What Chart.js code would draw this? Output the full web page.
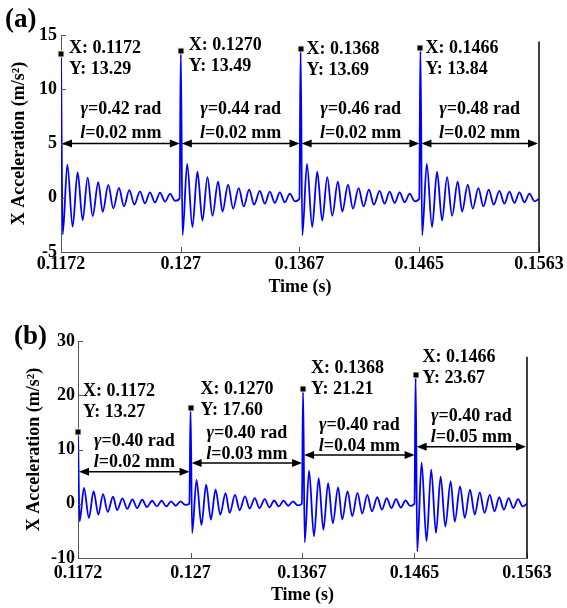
<!DOCTYPE html>
<html><head><meta charset="utf-8">
<script src="https://cdn.jsdelivr.net/npm/chart.js@4.4.1/dist/chart.umd.min.js"></script>
<style>
html,body{margin:0;padding:0;background:#fff;}
#wrap{position:relative;width:567px;height:608px;overflow:hidden;}
canvas{position:absolute;left:0;}
</style></head><body>
<div id="wrap">
<canvas id="ca" width="567" height="300" style="top:0"></canvas>
<canvas id="cb" width="567" height="308" style="top:300px"></canvas>
</div>
<script>
// ---------------- data ----------------
const xTickValues = [0.1172, 0.1270, 0.1367, 0.1465, 0.1563];
const xTickLabels = ['0.1172', '0.127', '0.1367', '0.1465', '0.1563'];

// times (ms after each impact) of the successive troughs/peaks of the ringing, last = end of segment
const ringOffsetsMs = [0.14, 0.52, 0.95, 1.36, 1.77, 2.18, 2.59, 3.05, 3.41, 3.87, 4.28, 4.74,
                       5.15, 5.59, 6.00, 6.46, 6.87, 7.28, 7.69, 8.10, 8.51, 8.92, 9.33, 9.70];

// panel (a)
const impactTimesA = [0.1172, 0.1270, 0.1368, 0.1466];
const impactPeaksA = [13.29, 13.49, 13.69, 13.84];
const ringA1 = [-3.38, 3.05, -2.66, 2.36, -2.06, 1.86, -1.68, 1.44, -1.30, 1.18, -0.98, 0.90, -0.79, 0.70, -0.63, 0.58, -0.52, 0.50, -0.44, 0.48, -0.36, 0.36, -0.28, -0.08];
const ringA2 = [-3.45, 3.12, -2.70, 2.40, -2.10, 1.90, -1.66, 1.48, -1.28, 1.20, -1.00, 0.89, -0.80, 0.74, -0.64, 0.63, -0.55, 0.56, -0.48, 0.49, -0.42, 0.38, -0.33, -0.10];
const ringA3 = [-3.45, 3.12, -2.70, 2.40, -2.10, 1.90, -1.66, 1.48, -1.28, 1.20, -1.00, 0.89, -0.80, 0.74, -0.64, 0.63, -0.55, 0.56, -0.48, 0.49, -0.42, 0.38, -0.33, -0.10];
const ringA4 = [-3.45, 3.12, -2.70, 2.40, -2.10, 1.90, -1.66, 1.48, -1.28, 1.20, -1.00, 0.89, -0.80, 0.74, -0.64, 0.63, -0.55, 0.56, -0.48, 0.49, -0.42, 0.38, -0.33, -0.10];
const gammaA = [0.42, 0.44, 0.46, 0.48];
const lengthA = [0.02, 0.02, 0.02, 0.02];
const arrowLevelA = [5, 5, 5, 5];
const endMarkTopA = 14.4;

// panel (b)
const impactTimesB = [0.1172, 0.1270, 0.1368, 0.1466];
const impactPeaksB = [13.27, 17.60, 21.21, 23.67];
const ringB1 = [-3.25, 2.90, -2.60, 2.30, -2.00, 1.75, -1.50, 1.30, -1.15, 1.00, -0.95, 0.82, -0.80, 0.74, -0.60, 0.55, -0.50, 0.55, -0.50, 0.43, -0.37, 0.43, -0.20, 0.00];
const ringB2 = [-5.40, 4.40, -3.90, 3.50, -2.90, 2.60, -2.00, 1.96, -1.70, 1.65, -1.20, 1.35, -0.90, 1.05, -0.80, 0.86, -0.67, 0.60, -0.50, 0.55, -0.37, 0.43, -0.30, 0.00];
const ringB3 = [-7.10, 6.10, -6.00, 4.70, -4.80, 3.80, -3.60, 3.00, -2.90, 2.30, -2.30, 2.00, -1.80, 1.65, -1.40, 1.20, -1.10, 1.05, -0.80, 0.86, -0.70, 0.60, -0.40, 0.00];
const ringB4 = [-8.80, 7.60, -6.90, 6.30, -5.40, 5.00, -4.20, 4.10, -3.30, 3.20, -2.60, 2.60, -2.00, 2.10, -1.70, 1.65, -1.40, 1.20, -1.10, 1.05, -0.80, 0.86, -0.50, 0.00];
const gammaB = [0.40, 0.40, 0.40, 0.40];
const lengthB = [0.02, 0.03, 0.04, 0.05];
const arrowLevelB = [5.9, 7.5, 9.0, 10.5];
const endMarkTopB = 27.1;

// ---------------- build ----------------
const FONT = "'Liberation Serif','Times New Roman',Times,serif";

function buildSeries(times, peaks, rings) {
  const pts = [];
  times.forEach((t0, k) => {
    pts.push({x: t0, y: peaks[k]});
    rings[k].forEach((v, j) => pts.push({x: t0 + ringOffsetsMs[j] / 1000, y: v}));
  });
  return pts;
}

function makePanel(id, P) {
  const series = buildSeries(P.times, P.peaks, P.rings);
  const annot = {
    id: 'annot_' + id,
    afterDraw(chart) {
      const ctx = chart.ctx, xs = chart.scales.x, ys = chart.scales.y;
      const ca = chart.chartArea;
      ctx.save();
      // inward tick marks
      ctx.strokeStyle = '#555'; ctx.lineWidth = 1;
      xTickValues.forEach(v => {
        const x = Math.round(xs.getPixelForValue(v)) + 0.5;
        ctx.beginPath(); ctx.moveTo(x, ca.bottom); ctx.lineTo(x, ca.bottom - 5); ctx.stroke();
      });
      ys.ticks.forEach(t => {
        const y = Math.round(ys.getPixelForValue(t.value)) + 0.5;
        ctx.beginPath(); ctx.moveTo(ca.left, y); ctx.lineTo(ca.left + 5, y); ctx.stroke();
      });
      // end marker line
      const xe = xs.getPixelForValue(xTickValues[4]);
      ctx.strokeStyle = '#000'; ctx.lineWidth = 1.5;
      ctx.beginPath(); ctx.moveTo(xe, ys.getPixelForValue(P.endTop)); ctx.lineTo(xe, ca.bottom); ctx.stroke();
      // arrows + texts
      ctx.fillStyle = '#000';
      P.times.forEach((t0, k) => {
        const x1 = xs.getPixelForValue(t0);
        const x2 = k < P.times.length - 1 ? xs.getPixelForValue(P.times[k + 1]) : xe;
        const y = ys.getPixelForValue(P.arrow[k]);
        ctx.lineWidth = 1.5;
        ctx.beginPath(); ctx.moveTo(x1 + 4, y); ctx.lineTo(x2 - 4, y); ctx.stroke();
        const L = 10, H = 4;
        ctx.beginPath(); ctx.moveTo(x1 + 1, y); ctx.lineTo(x1 + 1 + L, y - H); ctx.lineTo(x1 + 1 + L, y + H); ctx.closePath(); ctx.fill();
        ctx.beginPath(); ctx.moveTo(x2 - 1, y); ctx.lineTo(x2 - 1 - L, y - H); ctx.lineTo(x2 - 1 - L, y + H); ctx.closePath(); ctx.fill();
        const cx = (x1 + x2) / 2;
        drawMixed(ctx, [{t: '\u03B3', it: true}, {t: '=' + P.gamma[k].toFixed(2) + ' rad'}], cx, y - P.gOff);
        drawMixed(ctx, [{t: 'l', it: true}, {t: '=' + P.len[k].toFixed(2) + ' mm'}], cx, y - P.lOff);
      });
      // data tips
      P.times.forEach((t0, k) => {
        const mx = xs.getPixelForValue(t0), my = ys.getPixelForValue(P.peaks[k]);
        ctx.fillStyle = '#f4efc8';
        ctx.fillRect(Math.round(mx) - 3.5, Math.round(my) - 3.5, 7, 7);
        ctx.fillStyle = '#000';
        ctx.fillRect(Math.round(mx) - 2.5, Math.round(my) - 2.5, 5, 5);
        const off = P.tip[k];
        ctx.font = 'bold 18px ' + FONT;
        ctx.textAlign = 'left'; ctx.textBaseline = 'middle';
        ctx.fillText('X: ' + t0.toFixed(4), mx + off[0], my + off[1]);
        ctx.fillText('Y: ' + P.peaks[k].toFixed(2), mx + off[0], my + off[1] + P.tipGap);
      });
      // panel letter
      ctx.font = 'bold 27px ' + FONT;
      ctx.textAlign = 'left'; ctx.textBaseline = 'middle';
      ctx.fillText(P.letter, P.letterPos[0], P.letterPos[1]);
      ctx.restore();
    }
  };

  return new Chart(document.getElementById(id), {
    type: 'line',
    data: {datasets: [{data: series, borderColor: '#0000ff', borderWidth: 1.8, pointRadius: 0,
      cubicInterpolationMode: 'monotone', fill: false}]},
    options: {
      responsive: false, animation: false, parsing: true,
      layout: {padding: {top: P.padTop, right: P.padRight, left: 0, bottom: 0}},
      plugins: {legend: {display: false}, tooltip: {enabled: false}},
      scales: {
        x: {
          type: 'linear', min: xTickValues[0], max: xTickValues[4],
          afterBuildTicks: s => { s.ticks = xTickValues.map(v => ({value: v})); },
          afterFit: s => { s.height = P.xHeight; s.paddingLeft = 0; s.paddingRight = 0; },
          grid: {display: false, drawTicks: false},
          border: {display: true, color: '#555', width: 1},
          ticks: {autoSkip: false, maxRotation: 0, padding: P.xTickPad, color: '#000',
            font: {family: FONT, size: 18, weight: 'bold'},
            callback: (v, i) => xTickLabels[i]},
          title: {display: true, text: 'Time (s)', color: '#000',
            font: {family: FONT, size: 18, weight: 'bold'}, padding: {top: 0, bottom: 2}}
        },
        y: {
          min: P.ymin, max: P.ymax,
          afterFit: s => { s.width = P.yWidth; s.paddingTop = 0; s.paddingBottom = 0; },
          grid: {display: false, drawTicks: false},
          border: {display: true, color: '#555', width: 1},
          ticks: {stepSize: P.ystep, padding: P.yTickPad, color: '#000',
            font: {family: FONT, size: 18, weight: 'bold'}},
          title: {display: true, text: 'X Acceleration (m/s\u00B2)', color: '#000',
            font: {family: FONT, size: 18, weight: 'bold'}, padding: {top: P.yTitlePad, bottom: 0}}
        }
      }
    },
    plugins: [annot]
  });
}

function drawMixed(ctx, parts, cx, cy) {
  let w = 0;
  parts.forEach(p => { ctx.font = (p.it ? 'italic ' : '') + 'bold 18px ' + FONT; p.w = ctx.measureText(p.t).width; w += p.w; });
  let x = cx - w / 2;
  ctx.textAlign = 'left'; ctx.textBaseline = 'middle';
  parts.forEach(p => { ctx.font = (p.it ? 'italic ' : '') + 'bold 18px ' + FONT; ctx.fillText(p.t, x, cy); x += p.w; });
}

makePanel('ca', {
  times: impactTimesA, peaks: impactPeaksA, rings: [ringA1, ringA2, ringA3, ringA4],
  gamma: gammaA, len: lengthA, arrow: arrowLevelA, endTop: endMarkTopA,
  ymin: -5, ymax: 15, ystep: 5,
  padTop: 35, padRight: 28, yWidth: 61, xHeight: 48, xTickPad: 2, yTickPad: 4, yTitlePad: 9,
  gOff: 34, lOff: 10, tipGap: 21,
  tip: [[8, -5], [8, -6], [6, 0], [5, 1]],
  letter: '(a)', letterPos: [5, 20]
});

makePanel('cb', {
  times: impactTimesB, peaks: impactPeaksB, rings: [ringB1, ringB2, ringB3, ringB4],
  gamma: gammaB, len: lengthB, arrow: arrowLevelB, endTop: endMarkTopB,
  ymin: -10, ymax: 30, ystep: 10,
  padTop: 41, padRight: 40, yWidth: 78, xHeight: 50, xTickPad: 5, yTickPad: 3, yTitlePad: 24,
  gOff: 30, lOff: 9, tipGap: 21,
  tip: [[5, -40], [10, -19], [8, -20], [7, -18]],
  letter: '(b)', letterPos: [14, 37]
});
</script>
</body></html>
